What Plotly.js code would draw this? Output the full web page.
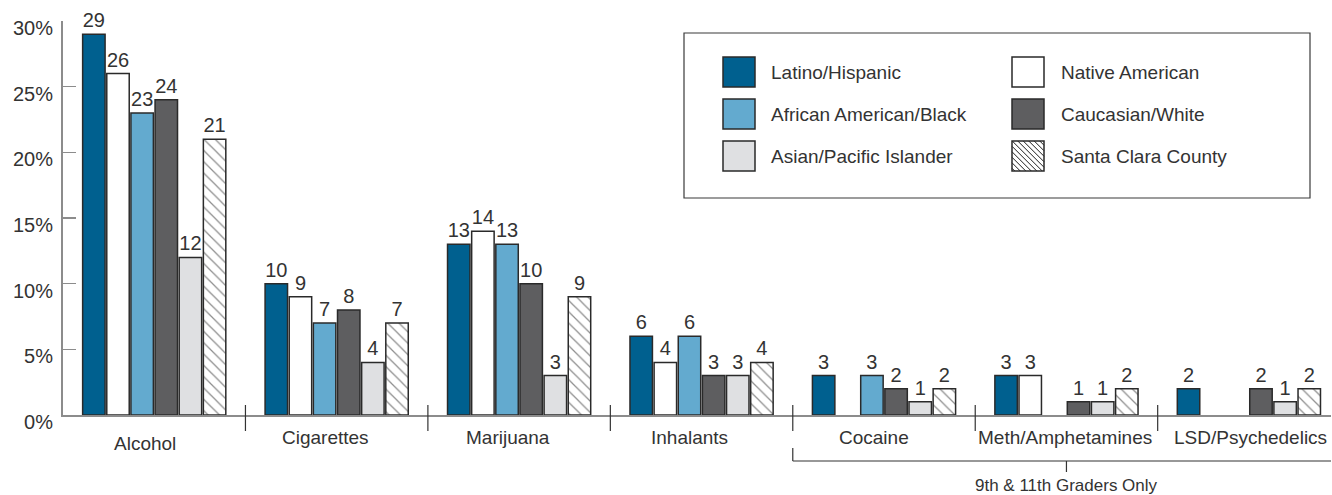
<!DOCTYPE html>
<html>
<head>
<meta charset="utf-8">
<script src="https://cdn.plot.ly/plotly-3.0.1.min.js"></script>
<style>
  html, body { margin: 0; padding: 0; background: #ffffff; }
  #chart { width: 1332px; height: 495px; }
</style>
</head>
<body>
<div id="chart"></div>
<script>
// Substance use by ethnicity (percent of students)
const categories = ['Alcohol', 'Cigarettes', 'Marijuana', 'Inhalants', 'Cocaine', 'Meth/Amphetamines', 'LSD/Psychedelics'];
const latino    = [29, 10, 13, 6, 3, 3, 2];
const native    = [26, 9, 14, 4, null, 3, null];
const african   = [23, 7, 13, 6, 3, null, null];
const caucasian = [24, 8, 10, 3, 2, 1, 2];
const asian     = [12, 4, 3, 3, 1, 1, 1];
const county    = [21, 7, 9, 4, 2, 2, 2];
const seriesNames = ['Latino/Hispanic', 'Native American', 'African American/Black', 'Caucasian/White', 'Asian/Pacific Islander', 'Santa Clara County'];
const yTicks = [0, 5, 10, 15, 20, 25, 30];
const yTickText = ['0%', '5%', '10%', '15%', '20%', '25%', '30%'];
const bracketLabel = '9th & 11th Graders Only';

// ---- styling / geometry ----
const FONT = 'Liberation Sans, Arial, Helvetica, sans-serif';
const TEXT = '#333333';
const AXIS = '#8c8c8c';
const OUTLINE = '#2a2a2a';
const W = 1332, H = 495;
const M = { l: 63, r: 1, t: 21, b: 80 };
const PW = W - M.l - M.r, PH = H - M.t - M.b;
const BASE = H - M.b;                         // pixel row of the baseline
const X = p => (p - M.l) / PW;                 // pixel column -> paper x
const Y = p => (BASE - p) / PH;                // pixel row -> paper y

const fills = ['#00608f', '#ffffff', '#63aacf', '#5e5e60', '#dfe0e2', '#ffffff'];
const seriesValues = [latino, native, african, caucasian, asian, county];
const xIdx = categories.map((_, i) => i);

const traces = seriesValues.map((vals, s) => {
  const marker = { color: fills[s], line: { color: OUTLINE, width: 1.5 } };
  if (s === 5) {
    marker.pattern = { shape: '\\', fgcolor: '#1e1e1e', bgcolor: '#ffffff', size: 8, solidity: 0.16, fillmode: 'overlay' };
  }
  return {
    type: 'bar',
    name: seriesNames[s],
    x: xIdx,
    y: vals,
    text: vals.map(v => (v == null ? '' : String(v))),
    textposition: 'outside',
    textfont: { family: FONT, size: 20, color: TEXT },
    constraintext: 'none',
    cliponaxis: false,
    marker: marker,
    hoverinfo: 'skip',
    showlegend: false
  };
});

const shapes = [];
const annotations = [];

// category separators crossing the baseline
for (let i = 0; i < categories.length - 1; i++) {
  shapes.push({ type: 'line', xref: 'x', yref: 'paper', x0: i + 0.5, x1: i + 0.5, y0: Y(405), y1: Y(431),
    line: { color: '#333333', width: 1.2 } });
}

// category labels under the axis
const labelShift = [-9, -11, -11, -12, -10, -1, 2];
const labelRow = [443, 437, 437, 437, 437, 437, 437];
categories.forEach((c, i) => {
  annotations.push({ text: c, xref: 'x', yref: 'paper', x: i, y: Y(labelRow[i]), xshift: labelShift[i],
    xanchor: 'center', yanchor: 'middle', showarrow: false, font: { family: FONT, size: 19, color: TEXT } });
});

// bracket grouping the last three categories
const bL = 3.5, bR = 6.5, bMid = 5;
shapes.push({ type: 'line', xref: 'x', yref: 'paper', x0: bL, x1: bL, y0: Y(448), y1: Y(461), line: { color: '#333333', width: 1.2 } });
shapes.push({ type: 'line', xref: 'x', yref: 'paper', x0: bL, x1: bR, y0: Y(461), y1: Y(461), line: { color: '#333333', width: 1.2 } });
shapes.push({ type: 'line', xref: 'x', yref: 'paper', x0: bMid, x1: bMid, y0: Y(461), y1: Y(472), line: { color: '#333333', width: 1.2 } });
annotations.push({ text: bracketLabel, xref: 'x', yref: 'paper', x: bMid, y: Y(485), xanchor: 'center', yanchor: 'middle',
  showarrow: false, font: { family: FONT, size: 17, color: TEXT } });

// legend box
shapes.push({ type: 'rect', xref: 'paper', yref: 'paper', x0: X(684), x1: X(1310), y0: Y(33), y1: Y(198),
  line: { color: '#3a3a3a', width: 1.2 }, fillcolor: 'rgba(0,0,0,0)' });

function hatchPath(x0, y0, x1, y1, step) {
  const w = x1 - x0, h = y1 - y0;
  let d = '';
  for (let c = -h + step / 2; c < w; c += step) {
    const t0 = Math.max(0, -c), t1 = Math.min(h, w - c);
    if (t1 <= t0) continue;
    d += 'M' + X(x0 + c + t0) + ',' + Y(y0 + t0) + 'L' + X(x0 + c + t1) + ',' + Y(y0 + t1);
  }
  return d;
}

// two-column legend, entries in bar order filled row by row
const colSwatch = [723, 1012];
const colText = [769, 1059];
const rows = [72, 114, 156];
const SW = 32, SH = 30;
seriesNames.forEach((name, s) => {
  const col = s % 2, row = Math.floor(s / 2);
  const sx0 = colSwatch[col], sx1 = sx0 + SW;
  const sy0 = rows[row] - SH / 2, sy1 = rows[row] + SH / 2;
  if (s === 5) {
    shapes.push({ type: 'path', xref: 'paper', yref: 'paper', path: hatchPath(sx0, sy0, sx1, sy1, 5.5),
      line: { color: '#1e1e1e', width: 1 } });
  }
  shapes.push({ type: 'rect', xref: 'paper', yref: 'paper', x0: X(sx0), x1: X(sx1), y0: Y(sy0), y1: Y(sy1),
    fillcolor: s === 5 ? 'rgba(0,0,0,0)' : fills[s], line: { color: OUTLINE, width: 1.5 } });
  annotations.push({ text: name, xref: 'paper', yref: 'paper', x: X(colText[col]), y: Y(rows[row]),
    xanchor: 'left', yanchor: 'middle', showarrow: false, font: { family: FONT, size: 19, color: TEXT } });
});

const layout = {
  width: W, height: H,
  margin: M,
  paper_bgcolor: '#ffffff', plot_bgcolor: '#ffffff',
  font: { family: FONT, color: TEXT },
  barmode: 'group',
  bargap: 0.206,
  bargroupgap: 0.07,
  showlegend: false,
  xaxis: {
    type: 'linear', range: [-0.5, 6.45], showticklabels: false, ticks: '',
    showgrid: false, zeroline: false, showline: true, linecolor: AXIS, linewidth: 1.5, fixedrange: true
  },
  yaxis: {
    range: [0, 30], tickmode: 'array', tickvals: yTicks, ticktext: yTickText, ticks: 'inside', ticklen: 13,
    tickcolor: AXIS, tickwidth: 1.5, showgrid: false, zeroline: false, showline: true,
    linecolor: AXIS, linewidth: 2, ticklabelshift: 7, ticklabelstandoff: 4,
    tickfont: { family: FONT, size: 20, color: TEXT }, fixedrange: true
  },
  shapes: shapes,
  annotations: annotations
};

Plotly.newPlot('chart', traces, layout, { displayModeBar: false, staticPlot: true });
</script>
</body>
</html>
